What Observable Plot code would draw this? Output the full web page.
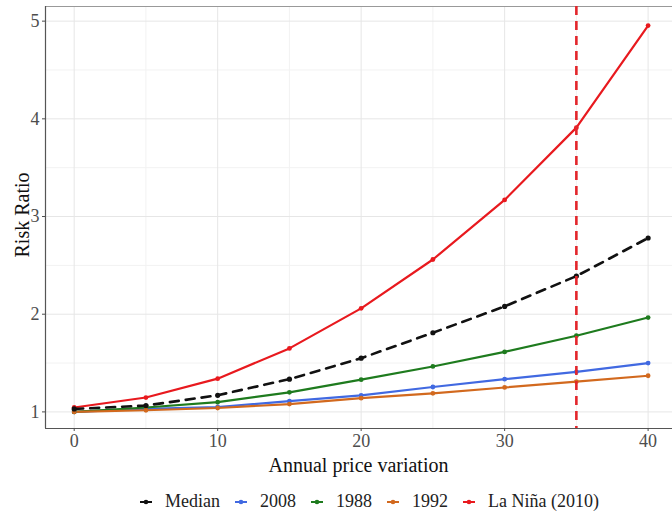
<!DOCTYPE html>
<html>
<head>
<meta charset="utf-8">
<script src="https://cdn.jsdelivr.net/npm/d3@7"></script>
<script src="https://cdn.jsdelivr.net/npm/@observablehq/plot@0.6"></script>
<style>
  html, body { margin: 0; padding: 0; background: #fff; }
  #wrap { position: relative; width: 672px; height: 521px; overflow: hidden; font-family: "Liberation Serif", serif; }
  #legend { position: absolute; left: 0; top: 491px; width: 754px; display: flex; justify-content: center; align-items: center; font-size: 18px; color: #222; }
  .item { display: flex; align-items: center; margin-right: 15px; }
  .item svg { margin-right: 13px; }
  #xtitle { position: absolute; left: 45px; width: 627px; top: 454px; text-align: center; font-size: 20px; color: #111; }
  #ytitle { position: absolute; left: 22px; top: 215px; font-size: 20px; color: #111; transform: translate(-50%, -50%) rotate(-90deg); white-space: nowrap; }
</style>
</head>
<body>
<div id="wrap"><div id="chart"></div><div id="xtitle">Annual price variation</div><div id="ytitle">Risk Ratio</div><div id="legend"></div></div>
<script>
const xs = [0, 5, 10, 15, 20, 25, 30, 35, 40];
const median = [1.03, 1.065, 1.17, 1.335, 1.55, 1.81, 2.08, 2.39, 2.78];
const y2008 = [1.0, 1.03, 1.05, 1.11, 1.17, 1.255, 1.335, 1.41, 1.50];
const y1988 = [1.0, 1.045, 1.10, 1.20, 1.33, 1.465, 1.614, 1.78, 1.966];
const y1992 = [1.0, 1.017, 1.04, 1.08, 1.14, 1.19, 1.25, 1.31, 1.37];
const laNina = [1.045, 1.147, 1.34, 1.65, 2.06, 2.56, 3.17, 3.91, 4.955];
const seriesNames = ["Median", "2008", "1988", "1992", "La Niña (2010)"];
const seriesColors = ["#111111", "#4169e1", "#1e7b1e", "#d2691e", "#e8191e"];
const xTicks = [0, 10, 20, 30, 40];
const xMinor = [5, 15, 25, 35];
const yTicks = [1, 2, 3, 4, 5];
const yMinor = [1.5, 2.5, 3.5, 4.5];
const threshold = 35;

const seriesValues = [median, y2008, y1988, y1992, laNina];
const rows = [];
seriesValues.forEach((vals, i) => xs.forEach((x, j) => rows.push({series: seriesNames[i], x, y: vals[j]})));
const solid = rows.filter(d => d.series !== "Median");
const med = rows.filter(d => d.series === "Median");
const colorOf = Object.fromEntries(seriesNames.map((s, i) => [s, seriesColors[i]]));

const yDom = [0.83, 5.15];
const xDom = [-2, 41.7];

const chart = Plot.plot({
  width: 672,
  height: 480,
  marginLeft: 45,
  marginRight: 0,
  marginTop: 6,
  marginBottom: 52,
  style: {fontFamily: "Liberation Serif, serif", background: "#fff"},
  x: {domain: xDom, label: null},
  y: {domain: yDom, label: null},
  marks: [
    Plot.ruleX(xMinor, {stroke: "#f2f2f2", strokeWidth: 1}),
    Plot.ruleY(yMinor, {stroke: "#f2f2f2", strokeWidth: 1}),
    Plot.ruleX(xTicks, {stroke: "#e6e6e6", strokeWidth: 1}),
    Plot.ruleY(yTicks, {stroke: "#e6e6e6", strokeWidth: 1}),
    Plot.ruleY([yDom[1]], {stroke: "#999", strokeWidth: 1.2}),
    Plot.line(solid, {x: "x", y: "y", z: "series", stroke: d => colorOf[d.series], strokeWidth: 2.2}),
    Plot.dot(solid, {x: "x", y: "y", fill: d => colorOf[d.series], r: 2.4}),
    Plot.line(med, {x: "x", y: "y", stroke: colorOf["Median"], strokeWidth: 2.6, strokeDasharray: "9,7"}),
    Plot.dot(med, {x: "x", y: "y", fill: colorOf["Median"], r: 2.6}),
    Plot.ruleX([threshold], {stroke: "#e3262b", strokeWidth: 2.6, strokeDasharray: "9,6"}),
    Plot.ruleX([xDom[0]], {stroke: "#555", strokeWidth: 1.2}),
    Plot.ruleY([yDom[0]], {stroke: "#555", strokeWidth: 1.2}),
    Plot.axisX({ticks: xTicks, tickFormat: "d", tickSize: 3, tickPadding: 3, fontSize: 18, color: "#4d4d4d", label: null}),
    Plot.axisY({ticks: yTicks, tickFormat: "d", tickSize: 3, tickPadding: 3, fontSize: 18, color: "#4d4d4d", label: null})
  ]
});
document.getElementById("chart").appendChild(chart);

const legend = document.getElementById("legend");
seriesNames.forEach((name, i) => {
  const item = document.createElement("div");
  item.className = "item";
  item.innerHTML = `<svg width="12" height="10"><line x1="0" y1="5" x2="12" y2="5" stroke="${seriesColors[i]}" stroke-width="2"/><circle cx="6" cy="5" r="2.3" fill="${seriesColors[i]}"/></svg><span>${name}</span>`;
  legend.appendChild(item);
});
</script>
</body>
</html>
